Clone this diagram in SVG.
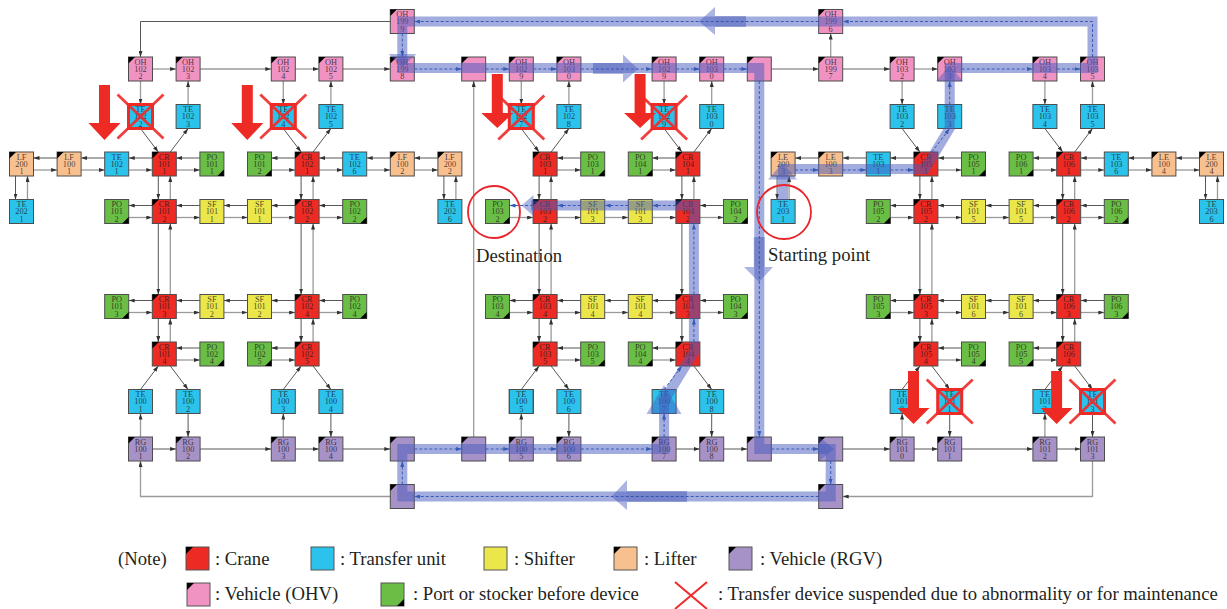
<svg xmlns="http://www.w3.org/2000/svg" width="1227" height="609" viewBox="0 0 1227 609">
<defs>
<style>
.n rect{stroke:#4d4d4d;stroke-width:1}
.cr{fill:#EE2A24}.te{fill:#2BC3EC}.sf{fill:#EBE74A}.lf{fill:#F9C08F}.rg{fill:#A792C7}.oh{fill:#F093C2}.po{fill:#6ABD45}
.t{font-family:"Liberation Serif","Times New Roman",serif;font-size:8.3px;text-anchor:middle;fill:#1a1a1a;fill-opacity:.8}
.d{fill:none;stroke:#444;stroke-width:.9;marker-end:url(#ad)}
.g{fill:none;stroke:#9a9a9a;stroke-width:1.3;marker-end:url(#ad)}
.r{fill:none;stroke:#2a5db0;stroke-width:1;stroke-dasharray:3 2;marker-end:url(#ab)}
.band{fill:none;stroke:rgb(70,90,190);stroke-opacity:.5;stroke-width:10;stroke-linejoin:miter}
.bh{fill:rgb(70,90,190);fill-opacity:.45}
.bs{fill:rgb(50,70,175);fill-opacity:.4}
.ra{fill:#EE2A24}
.x{stroke:#F02A2A;stroke-opacity:.9;stroke-width:2.8;fill:none}
.xb{stroke:#EE2A24;stroke-width:3;fill:none}
.lab{font-family:"Liberation Serif","Times New Roman",serif;font-size:18.7px;fill:#231f20}
.circ{fill:none;stroke:#E8262B;stroke-width:1.8}
</style>
<marker id="ad" viewBox="0 0 6 4" refX="6" refY="2" markerWidth="6" markerHeight="4" markerUnits="userSpaceOnUse" orient="auto"><path d="M0,0L6,2L0,4Z" fill="#333"/></marker>
<marker id="ab" viewBox="0 0 6 4" refX="6" refY="2" markerWidth="6" markerHeight="4" markerUnits="userSpaceOnUse" orient="auto"><path d="M0,0L6,2L0,4Z" fill="#2a5db0"/></marker>
<path id="tl" d="M0,0H6.5L0,6.5Z" fill="#000"/>
<path id="br" d="M24,24H17.5L24,17.5Z" fill="#000"/>
</defs>
<rect width="1227" height="609" fill="#fff"/>

<g id="connectors">
<path class="d" d="M390.3,21.5H140.5V57"/>
<path class="r" d="M818.7,21.5H414.3"/>
<path class="r" d="M1092.5,57V21.5H842.7"/>
<path class="g" d="M830.7,57V33.5"/>
<path class="r" d="M402.3,33.5V57"/>
<path class="g" d="M152.5,69H176.1"/><path class="g" d="M200.1,69H271.3"/><path class="g" d="M295.3,69H318.9"/><path class="g" d="M342.9,69H390.3"/>
<path class="r" d="M414.3,69H461.7"/><path class="r" d="M485.7,69H509.3"/><path class="r" d="M533.3,69H556.9"/><path class="r" d="M580.9,69H652.1"/><path class="r" d="M676.1,69H699.7"/><path class="r" d="M723.7,69H747.3"/>
<path class="g" d="M771.3,69H818.7"/><path class="g" d="M842.7,69H890.1"/><path class="g" d="M914.1,69H937.7"/>
<path class="r" d="M961.7,69H1032.9"/><path class="r" d="M1056.9,69H1080.5"/>
<path class="g" d="M140.5,81V104.5"/><path class="g" d="M283.3,81V104.5"/><path class="g" d="M521.3,81V104.5"/><path class="g" d="M664.1,81V104.5"/><path class="g" d="M902.1,81V104.5"/><path class="g" d="M1044.9,81V104.5"/>
<path class="g" d="M188.1,104.5V81"/><path class="g" d="M330.9,104.5V81"/><path class="g" d="M568.9,104.5V81"/><path class="g" d="M711.7,104.5V81"/><path class="r" d="M949.7,104.5V81"/><path class="g" d="M1092.5,104.5V81"/>
<path class="d" d="M140.5,128.5L158.3,152"/><path class="d" d="M170.3,152L188.1,128.5"/>
<path class="d" d="M283.3,128.5L301.1,152"/><path class="d" d="M313.1,152L330.9,128.5"/>
<path class="d" d="M521.3,128.5L539.1,152"/><path class="d" d="M551.1,152L568.9,128.5"/>
<path class="d" d="M664.1,128.5L681.9,152"/><path class="d" d="M693.9,152L711.7,128.5"/>
<path class="d" d="M902.1,128.5L919.9,152"/><path class="r" d="M931.9,152L949.7,128.5"/>
<path class="d" d="M1044.9,128.5L1062.7,152"/><path class="d" d="M1074.7,152L1092.5,128.5"/>
<path class="d" d="M57.1,158H33.5"/><path class="g" d="M33.5,170H57.1"/>
<path class="d" d="M104.7,158H81.1"/><path class="g" d="M81.1,170H104.7"/>
<path class="d" d="M152.3,158H128.7"/><path class="g" d="M128.7,170H152.3"/>
<path class="d" d="M199.9,158H176.3"/><path class="g" d="M176.3,170H199.9"/>
<path class="d" d="M295.1,158H271.5"/><path class="g" d="M271.5,170H295.1"/>
<path class="d" d="M342.7,158H319.1"/><path class="g" d="M319.1,170H342.7"/>
<path class="d" d="M390.3,158H366.7"/><path class="g" d="M366.7,170H390.3"/>
<path class="d" d="M437.9,158H414.3"/><path class="g" d="M414.3,170H437.9"/>
<path class="d" d="M580.7,158H557.1"/><path class="g" d="M557.1,170H580.7"/>
<path class="d" d="M675.9,158H652.3"/><path class="g" d="M652.3,170H675.9"/>
<path class="d" d="M818.7,158H795.1"/><path class="r" d="M795.1,170H818.7"/>
<path class="d" d="M866.3,158H842.7"/><path class="r" d="M842.7,170H866.3"/>
<path class="d" d="M913.9,158H890.3"/><path class="r" d="M890.3,170H913.9"/>
<path class="d" d="M961.5,158H937.9"/><path class="g" d="M937.9,170H961.5"/>
<path class="d" d="M1056.7,158H1033.1"/><path class="g" d="M1033.1,170H1056.7"/>
<path class="d" d="M1104.3,158H1080.7"/><path class="g" d="M1080.7,170H1104.3"/>
<path class="d" d="M1151.9,158H1128.3"/><path class="g" d="M1128.3,170H1151.9"/>
<path class="d" d="M1199.5,158H1175.9"/><path class="g" d="M1175.9,170H1199.5"/>
<path class="d" d="M152.3,205.5H128.7"/><path class="g" d="M128.7,217.5H152.3"/>
<path class="d" d="M199.9,205.5H176.3"/><path class="g" d="M176.3,217.5H199.9"/>
<path class="d" d="M247.5,205.5H223.9"/><path class="g" d="M223.9,217.5H247.5"/>
<path class="d" d="M295.1,205.5H271.5"/><path class="g" d="M271.5,217.5H295.1"/>
<path class="d" d="M342.7,205.5H319.1"/><path class="g" d="M319.1,217.5H342.7"/>
<path class="r" d="M533.1,205.5H509.5"/><path class="g" d="M509.5,217.5H533.1"/>
<path class="r" d="M580.7,205.5H557.1"/><path class="g" d="M557.1,217.5H580.7"/>
<path class="r" d="M628.3,205.5H604.7"/><path class="g" d="M604.7,217.5H628.3"/>
<path class="r" d="M675.9,205.5H652.3"/><path class="g" d="M652.3,217.5H675.9"/>
<path class="d" d="M723.5,205.5H699.9"/><path class="g" d="M699.9,217.5H723.5"/>
<path class="d" d="M913.9,205.5H890.3"/><path class="g" d="M890.3,217.5H913.9"/>
<path class="d" d="M961.5,205.5H937.9"/><path class="g" d="M937.9,217.5H961.5"/>
<path class="d" d="M1009.1,205.5H985.5"/><path class="g" d="M985.5,217.5H1009.1"/>
<path class="d" d="M1056.7,205.5H1033.1"/><path class="g" d="M1033.1,217.5H1056.7"/>
<path class="d" d="M1104.3,205.5H1080.7"/><path class="g" d="M1080.7,217.5H1104.3"/>
<path class="d" d="M152.3,300.5H128.7"/><path class="g" d="M128.7,312.5H152.3"/>
<path class="d" d="M199.9,300.5H176.3"/><path class="g" d="M176.3,312.5H199.9"/>
<path class="d" d="M247.5,300.5H223.9"/><path class="g" d="M223.9,312.5H247.5"/>
<path class="d" d="M295.1,300.5H271.5"/><path class="g" d="M271.5,312.5H295.1"/>
<path class="d" d="M342.7,300.5H319.1"/><path class="g" d="M319.1,312.5H342.7"/>
<path class="d" d="M533.1,300.5H509.5"/><path class="g" d="M509.5,312.5H533.1"/>
<path class="d" d="M580.7,300.5H557.1"/><path class="g" d="M557.1,312.5H580.7"/>
<path class="d" d="M628.3,300.5H604.7"/><path class="g" d="M604.7,312.5H628.3"/>
<path class="d" d="M675.9,300.5H652.3"/><path class="g" d="M652.3,312.5H675.9"/>
<path class="d" d="M723.5,300.5H699.9"/><path class="g" d="M699.9,312.5H723.5"/>
<path class="d" d="M913.9,300.5H890.3"/><path class="g" d="M890.3,312.5H913.9"/>
<path class="d" d="M961.5,300.5H937.9"/><path class="g" d="M937.9,312.5H961.5"/>
<path class="d" d="M1009.1,300.5H985.5"/><path class="g" d="M985.5,312.5H1009.1"/>
<path class="d" d="M1056.7,300.5H1033.1"/><path class="g" d="M1033.1,312.5H1056.7"/>
<path class="d" d="M1104.3,300.5H1080.7"/><path class="g" d="M1080.7,312.5H1104.3"/>
<path class="d" d="M199.9,348H176.3"/><path class="g" d="M176.3,360H199.9"/>
<path class="d" d="M295.1,348H271.5"/><path class="g" d="M271.5,360H295.1"/>
<path class="d" d="M580.7,348H557.1"/><path class="g" d="M557.1,360H580.7"/>
<path class="d" d="M675.9,348H652.3"/><path class="g" d="M652.3,360H675.9"/>
<path class="d" d="M961.5,348H937.9"/><path class="g" d="M937.9,360H961.5"/>
<path class="d" d="M1056.7,348H1033.1"/><path class="g" d="M1033.1,360H1056.7"/>
<path class="d" d="M15.5,176V199.5"/><path class="g" d="M27.5,199.5V176"/>
<path class="d" d="M443.9,176V199.5"/><path class="g" d="M455.9,199.5V176"/>
<path class="d" d="M777.1,176V199.5"/><path class="g" d="M789.1,199.5V176"/>
<path class="d" d="M1205.5,176V199.5"/><path class="g" d="M1217.5,199.5V176"/>
<path class="d" d="M158.3,176V199.5"/><path class="g" d="M170.3,199.5V176"/>
<path class="d" d="M158.3,223.5V294.5"/><path class="g" d="M170.3,294.5V223.5"/>
<path class="d" d="M158.3,318.5V342"/><path class="g" d="M170.3,342V318.5"/>
<path class="d" d="M301.1,176V199.5"/><path class="g" d="M313.1,199.5V176"/>
<path class="d" d="M301.1,223.5V294.5"/><path class="g" d="M313.1,294.5V223.5"/>
<path class="d" d="M301.1,318.5V342"/><path class="g" d="M313.1,342V318.5"/>
<path class="d" d="M539.1,176V199.5"/><path class="g" d="M551.1,199.5V176"/>
<path class="d" d="M539.1,223.5V294.5"/><path class="g" d="M551.1,294.5V223.5"/>
<path class="d" d="M539.1,318.5V342"/><path class="g" d="M551.1,342V318.5"/>
<path class="d" d="M681.9,176V199.5"/><path class="g" d="M693.9,199.5V176"/>
<path class="d" d="M681.9,223.5V294.5"/><path class="r" d="M693.9,294.5V223.5"/>
<path class="d" d="M681.9,318.5V342"/><path class="r" d="M693.9,342V318.5"/>
<path class="d" d="M919.9,176V199.5"/><path class="g" d="M931.9,199.5V176"/>
<path class="d" d="M919.9,223.5V294.5"/><path class="g" d="M931.9,294.5V223.5"/>
<path class="d" d="M919.9,318.5V342"/><path class="g" d="M931.9,342V318.5"/>
<path class="d" d="M1062.7,176V199.5"/><path class="g" d="M1074.7,199.5V176"/>
<path class="d" d="M1062.7,223.5V294.5"/><path class="g" d="M1074.7,294.5V223.5"/>
<path class="d" d="M1062.7,318.5V342"/><path class="g" d="M1074.7,342V318.5"/>
<path class="d" d="M140.5,389.5L158.3,366"/><path class="d" d="M170.3,366L188.1,389.5"/>
<path class="d" d="M283.3,389.5L301.1,366"/><path class="d" d="M313.1,366L330.9,389.5"/>
<path class="d" d="M521.3,389.5L539.1,366"/><path class="d" d="M551.1,366L568.9,389.5"/>
<path class="r" d="M664.1,389.5L681.9,366"/><path class="d" d="M693.9,366L711.7,389.5"/>
<path class="d" d="M902.1,389.5L919.9,366"/><path class="d" d="M931.9,366L949.7,389.5"/>
<path class="d" d="M1044.9,389.5L1062.7,366"/><path class="d" d="M1074.7,366L1092.5,389.5"/>
<path class="g" d="M140.5,437V413.5"/><path class="g" d="M283.3,437V413.5"/><path class="g" d="M521.3,437V413.5"/><path class="r" d="M664.1,437V413.5"/><path class="g" d="M902.1,437V413.5"/><path class="g" d="M1044.9,437V413.5"/>
<path class="d" d="M188.1,413.5V437"/><path class="d" d="M330.9,413.5V437"/><path class="d" d="M568.9,413.5V437"/><path class="d" d="M711.7,413.5V437"/><path class="d" d="M949.7,413.5V437"/><path class="d" d="M1092.5,413.5V437"/>
<path class="d" d="M152.5,449H176.1"/><path class="d" d="M200.1,449H271.3"/><path class="d" d="M295.3,449H318.9"/><path class="d" d="M342.9,449H390.3"/>
<path class="r" d="M414.3,449H461.7"/><path class="r" d="M485.7,449H509.3"/><path class="r" d="M533.3,449H556.9"/><path class="r" d="M580.9,449H652.1"/>
<path class="d" d="M676.1,449H699.7"/><path class="d" d="M723.7,449H747.3"/>
<path class="r" d="M771.3,449H818.7"/>
<path class="d" d="M842.7,449H890.1"/><path class="d" d="M914.1,449H937.7"/><path class="d" d="M961.7,449H1032.9"/><path class="d" d="M1056.9,449H1080.5"/>
<path class="g" d="M1092.5,461V496.5H842.7"/>
<path class="r" d="M818.7,496.5H414.3"/>
<path class="r" d="M402.3,484.5V461"/>
<path class="g" d="M390.3,496.5H140.5V461"/>
<path class="g" d="M473.7,437V81"/>
<path class="r" d="M759.3,81V437"/>
<path class="r" d="M830.7,461V484.5"/>
</g>

<g id="nodes">
<g id="n-OH1999" class="n" transform="translate(390.3,9.5)"><rect class="oh" width="24" height="24"/><use href="#tl"/><text class="t"><tspan x="12" y="7.5">OH</tspan><tspan x="12" y="14.8">199</tspan><tspan x="12" y="22">9</tspan></text></g>
<g id="n-OH1996" class="n" transform="translate(818.7,9.5)"><rect class="oh" width="24" height="24"/><use href="#tl"/><text class="t"><tspan x="12" y="7.5">OH</tspan><tspan x="12" y="14.8">199</tspan><tspan x="12" y="22">6</tspan></text></g>

<g id="n-OH1022" class="n" transform="translate(128.5,57)"><rect class="oh" width="24" height="24"/><use href="#tl"/><text class="t"><tspan x="12" y="7.5">OH</tspan><tspan x="12" y="14.8">102</tspan><tspan x="12" y="22">2</tspan></text></g>
<g id="n-OH1023" class="n" transform="translate(176.1,57)"><rect class="oh" width="24" height="24"/><use href="#tl"/><text class="t"><tspan x="12" y="7.5">OH</tspan><tspan x="12" y="14.8">102</tspan><tspan x="12" y="22">3</tspan></text></g>
<g id="n-OH1024" class="n" transform="translate(271.3,57)"><rect class="oh" width="24" height="24"/><use href="#tl"/><text class="t"><tspan x="12" y="7.5">OH</tspan><tspan x="12" y="14.8">102</tspan><tspan x="12" y="22">4</tspan></text></g>
<g id="n-OH1025" class="n" transform="translate(318.9,57)"><rect class="oh" width="24" height="24"/><use href="#tl"/><text class="t"><tspan x="12" y="7.5">OH</tspan><tspan x="12" y="14.8">102</tspan><tspan x="12" y="22">5</tspan></text></g>
<g id="n-OH1998" class="n" transform="translate(390.3,57)"><rect class="oh" width="24" height="24"/><use href="#tl"/><text class="t"><tspan x="12" y="7.5">OH</tspan><tspan x="12" y="14.8">199</tspan><tspan x="12" y="22">8</tspan></text></g>
<g id="n-OHB1" class="n" transform="translate(461.7,57)"><rect class="oh" width="24" height="24"/><use href="#tl"/></g>
<g id="n-OH1029a" class="n" transform="translate(509.3,57)"><rect class="oh" width="24" height="24"/><use href="#tl"/><text class="t"><tspan x="12" y="7.5">OH</tspan><tspan x="12" y="14.8">102</tspan><tspan x="12" y="22">9</tspan></text></g>
<g id="n-OH1030a" class="n" transform="translate(556.9,57)"><rect class="oh" width="24" height="24"/><use href="#tl"/><text class="t"><tspan x="12" y="7.5">OH</tspan><tspan x="12" y="14.8">103</tspan><tspan x="12" y="22">0</tspan></text></g>
<g id="n-OH1029b" class="n" transform="translate(652.1,57)"><rect class="oh" width="24" height="24"/><use href="#tl"/><text class="t"><tspan x="12" y="7.5">OH</tspan><tspan x="12" y="14.8">102</tspan><tspan x="12" y="22">9</tspan></text></g>
<g id="n-OH1030b" class="n" transform="translate(699.7,57)"><rect class="oh" width="24" height="24"/><use href="#tl"/><text class="t"><tspan x="12" y="7.5">OH</tspan><tspan x="12" y="14.8">103</tspan><tspan x="12" y="22">0</tspan></text></g>
<g id="n-OHB2" class="n" transform="translate(747.3,57)"><rect class="oh" width="24" height="24"/><use href="#tl"/></g>
<g id="n-OH1997" class="n" transform="translate(818.7,57)"><rect class="oh" width="24" height="24"/><use href="#tl"/><text class="t"><tspan x="12" y="7.5">OH</tspan><tspan x="12" y="14.8">199</tspan><tspan x="12" y="22">7</tspan></text></g>
<g id="n-OH1032" class="n" transform="translate(890.1,57)"><rect class="oh" width="24" height="24"/><use href="#tl"/><text class="t"><tspan x="12" y="7.5">OH</tspan><tspan x="12" y="14.8">103</tspan><tspan x="12" y="22">2</tspan></text></g>
<g id="n-OH1033" class="n" transform="translate(937.7,57)"><rect class="oh" width="24" height="24"/><use href="#tl"/><text class="t"><tspan x="12" y="7.5">OH</tspan><tspan x="12" y="14.8">103</tspan><tspan x="12" y="22">3</tspan></text></g>
<g id="n-OH1034" class="n" transform="translate(1032.9,57)"><rect class="oh" width="24" height="24"/><use href="#tl"/><text class="t"><tspan x="12" y="7.5">OH</tspan><tspan x="12" y="14.8">103</tspan><tspan x="12" y="22">4</tspan></text></g>
<g id="n-OH1035" class="n" transform="translate(1080.5,57)"><rect class="oh" width="24" height="24"/><use href="#tl"/><text class="t"><tspan x="12" y="7.5">OH</tspan><tspan x="12" y="14.8">103</tspan><tspan x="12" y="22">5</tspan></text></g>

<g id="n-TE1022" class="n" transform="translate(128.5,104.5)"><rect class="te" width="24" height="24"/><text class="t"><tspan x="12" y="7.5">TE</tspan><tspan x="12" y="14.8">102</tspan><tspan x="12" y="22">2</tspan></text></g>
<g id="n-TE1023" class="n" transform="translate(176.1,104.5)"><rect class="te" width="24" height="24"/><text class="t"><tspan x="12" y="7.5">TE</tspan><tspan x="12" y="14.8">102</tspan><tspan x="12" y="22">3</tspan></text></g>
<g id="n-TE1024" class="n" transform="translate(271.3,104.5)"><rect class="te" width="24" height="24"/><text class="t"><tspan x="12" y="7.5">TE</tspan><tspan x="12" y="14.8">102</tspan><tspan x="12" y="22">4</tspan></text></g>
<g id="n-TE1025" class="n" transform="translate(318.9,104.5)"><rect class="te" width="24" height="24"/><text class="t"><tspan x="12" y="7.5">TE</tspan><tspan x="12" y="14.8">102</tspan><tspan x="12" y="22">5</tspan></text></g>
<g id="n-TE1027" class="n" transform="translate(509.3,104.5)"><rect class="te" width="24" height="24"/><text class="t"><tspan x="12" y="7.5">TE</tspan><tspan x="12" y="14.8">102</tspan><tspan x="12" y="22">7</tspan></text></g>
<g id="n-TE1028" class="n" transform="translate(556.9,104.5)"><rect class="te" width="24" height="24"/><text class="t"><tspan x="12" y="7.5">TE</tspan><tspan x="12" y="14.8">102</tspan><tspan x="12" y="22">8</tspan></text></g>
<g id="n-TE1029" class="n" transform="translate(652.1,104.5)"><rect class="te" width="24" height="24"/><text class="t"><tspan x="12" y="7.5">TE</tspan><tspan x="12" y="14.8">102</tspan><tspan x="12" y="22">9</tspan></text></g>
<g id="n-TE1030" class="n" transform="translate(699.7,104.5)"><rect class="te" width="24" height="24"/><text class="t"><tspan x="12" y="7.5">TE</tspan><tspan x="12" y="14.8">103</tspan><tspan x="12" y="22">0</tspan></text></g>
<g id="n-TE1032" class="n" transform="translate(890.1,104.5)"><rect class="te" width="24" height="24"/><text class="t"><tspan x="12" y="7.5">TE</tspan><tspan x="12" y="14.8">103</tspan><tspan x="12" y="22">2</tspan></text></g>
<g id="n-TE1033" class="n" transform="translate(937.7,104.5)"><rect class="te" width="24" height="24"/><text class="t"><tspan x="12" y="7.5">TE</tspan><tspan x="12" y="14.8">103</tspan><tspan x="12" y="22">3</tspan></text></g>
<g id="n-TE1034" class="n" transform="translate(1032.9,104.5)"><rect class="te" width="24" height="24"/><text class="t"><tspan x="12" y="7.5">TE</tspan><tspan x="12" y="14.8">103</tspan><tspan x="12" y="22">4</tspan></text></g>
<g id="n-TE1035" class="n" transform="translate(1080.5,104.5)"><rect class="te" width="24" height="24"/><text class="t"><tspan x="12" y="7.5">TE</tspan><tspan x="12" y="14.8">103</tspan><tspan x="12" y="22">5</tspan></text></g>

<g id="n-LF2001" class="n" transform="translate(9.5,152)"><rect class="lf" width="24" height="24"/><use href="#tl"/><text class="t"><tspan x="12" y="7.5">LF</tspan><tspan x="12" y="14.8">200</tspan><tspan x="12" y="22">1</tspan></text></g>
<g id="n-LF1001" class="n" transform="translate(57.1,152)"><rect class="lf" width="24" height="24"/><use href="#tl"/><text class="t"><tspan x="12" y="7.5">LF</tspan><tspan x="12" y="14.8">100</tspan><tspan x="12" y="22">1</tspan></text></g>
<g id="n-TE1021" class="n" transform="translate(104.7,152)"><rect class="te" width="24" height="24"/><text class="t"><tspan x="12" y="7.5">TE</tspan><tspan x="12" y="14.8">102</tspan><tspan x="12" y="22">1</tspan></text></g>
<g id="n-CR1011" class="n" transform="translate(152.3,152)"><rect class="cr" width="24" height="24"/><use href="#tl"/><text class="t"><tspan x="12" y="7.5">CR</tspan><tspan x="12" y="14.8">101</tspan><tspan x="12" y="22">1</tspan></text></g>
<g id="n-PO1011" class="n" transform="translate(199.9,152)"><rect class="po" width="24" height="24"/><use href="#br"/><text class="t"><tspan x="12" y="7.5">PO</tspan><tspan x="12" y="14.8">101</tspan><tspan x="12" y="22">1</tspan></text></g>
<g id="n-PO1012a" class="n" transform="translate(247.5,152)"><rect class="po" width="24" height="24"/><use href="#br"/><text class="t"><tspan x="12" y="7.5">PO</tspan><tspan x="12" y="14.8">101</tspan><tspan x="12" y="22">2</tspan></text></g>
<g id="n-CR1021" class="n" transform="translate(295.1,152)"><rect class="cr" width="24" height="24"/><use href="#tl"/><text class="t"><tspan x="12" y="7.5">CR</tspan><tspan x="12" y="14.8">102</tspan><tspan x="12" y="22">1</tspan></text></g>
<g id="n-TE1026" class="n" transform="translate(342.7,152)"><rect class="te" width="24" height="24"/><text class="t"><tspan x="12" y="7.5">TE</tspan><tspan x="12" y="14.8">102</tspan><tspan x="12" y="22">6</tspan></text></g>
<g id="n-LF1002" class="n" transform="translate(390.3,152)"><rect class="lf" width="24" height="24"/><use href="#tl"/><text class="t"><tspan x="12" y="7.5">LF</tspan><tspan x="12" y="14.8">100</tspan><tspan x="12" y="22">2</tspan></text></g>
<g id="n-LF2002" class="n" transform="translate(437.9,152)"><rect class="lf" width="24" height="24"/><use href="#tl"/><text class="t"><tspan x="12" y="7.5">LF</tspan><tspan x="12" y="14.8">200</tspan><tspan x="12" y="22">2</tspan></text></g>
<g id="n-CR1031" class="n" transform="translate(533.1,152)"><rect class="cr" width="24" height="24"/><use href="#tl"/><text class="t"><tspan x="12" y="7.5">CR</tspan><tspan x="12" y="14.8">103</tspan><tspan x="12" y="22">1</tspan></text></g>
<g id="n-PO1031" class="n" transform="translate(580.7,152)"><rect class="po" width="24" height="24"/><use href="#br"/><text class="t"><tspan x="12" y="7.5">PO</tspan><tspan x="12" y="14.8">103</tspan><tspan x="12" y="22">1</tspan></text></g>
<g id="n-PO1041" class="n" transform="translate(628.3,152)"><rect class="po" width="24" height="24"/><use href="#br"/><text class="t"><tspan x="12" y="7.5">PO</tspan><tspan x="12" y="14.8">104</tspan><tspan x="12" y="22">1</tspan></text></g>
<g id="n-CR1041" class="n" transform="translate(675.9,152)"><rect class="cr" width="24" height="24"/><use href="#tl"/><text class="t"><tspan x="12" y="7.5">CR</tspan><tspan x="12" y="14.8">104</tspan><tspan x="12" y="22">1</tspan></text></g>
<g id="n-LE2003" class="n" transform="translate(771.1,152)"><rect class="lf" width="24" height="24"/><use href="#tl"/><text class="t"><tspan x="12" y="7.5">LE</tspan><tspan x="12" y="14.8">200</tspan><tspan x="12" y="22">3</tspan></text></g>
<g id="n-LE1003" class="n" transform="translate(818.7,152)"><rect class="lf" width="24" height="24"/><use href="#tl"/><text class="t"><tspan x="12" y="7.5">LE</tspan><tspan x="12" y="14.8">100</tspan><tspan x="12" y="22">3</tspan></text></g>
<g id="n-TE1031" class="n" transform="translate(866.3,152)"><rect class="te" width="24" height="24"/><text class="t"><tspan x="12" y="7.5">TE</tspan><tspan x="12" y="14.8">103</tspan><tspan x="12" y="22">1</tspan></text></g>
<g id="n-CR1051" class="n" transform="translate(913.9,152)"><rect class="cr" width="24" height="24"/><use href="#tl"/><text class="t"><tspan x="12" y="7.5">CR</tspan><tspan x="12" y="14.8">105</tspan><tspan x="12" y="22">1</tspan></text></g>
<g id="n-PO1051" class="n" transform="translate(961.5,152)"><rect class="po" width="24" height="24"/><use href="#br"/><text class="t"><tspan x="12" y="7.5">PO</tspan><tspan x="12" y="14.8">105</tspan><tspan x="12" y="22">1</tspan></text></g>
<g id="n-PO1061" class="n" transform="translate(1009.1,152)"><rect class="po" width="24" height="24"/><use href="#br"/><text class="t"><tspan x="12" y="7.5">PO</tspan><tspan x="12" y="14.8">106</tspan><tspan x="12" y="22">1</tspan></text></g>
<g id="n-CR1061" class="n" transform="translate(1056.7,152)"><rect class="cr" width="24" height="24"/><use href="#tl"/><text class="t"><tspan x="12" y="7.5">CR</tspan><tspan x="12" y="14.8">106</tspan><tspan x="12" y="22">1</tspan></text></g>
<g id="n-TE1036" class="n" transform="translate(1104.3,152)"><rect class="te" width="24" height="24"/><text class="t"><tspan x="12" y="7.5">TE</tspan><tspan x="12" y="14.8">103</tspan><tspan x="12" y="22">6</tspan></text></g>
<g id="n-LE1004" class="n" transform="translate(1151.9,152)"><rect class="lf" width="24" height="24"/><use href="#tl"/><text class="t"><tspan x="12" y="7.5">LE</tspan><tspan x="12" y="14.8">100</tspan><tspan x="12" y="22">4</tspan></text></g>
<g id="n-LE2004" class="n" transform="translate(1199.5,152)"><rect class="lf" width="24" height="24"/><use href="#tl"/><text class="t"><tspan x="12" y="7.5">LE</tspan><tspan x="12" y="14.8">200</tspan><tspan x="12" y="22">4</tspan></text></g>

<g id="n-TE2021" class="n" transform="translate(9.5,199.5)"><rect class="te" width="24" height="24"/><text class="t"><tspan x="12" y="7.5">TE</tspan><tspan x="12" y="14.8">202</tspan><tspan x="12" y="22">1</tspan></text></g>
<g id="n-PO1012b" class="n" transform="translate(104.7,199.5)"><rect class="po" width="24" height="24"/><use href="#br"/><text class="t"><tspan x="12" y="7.5">PO</tspan><tspan x="12" y="14.8">101</tspan><tspan x="12" y="22">2</tspan></text></g>
<g id="n-CR1012" class="n" transform="translate(152.3,199.5)"><rect class="cr" width="24" height="24"/><use href="#tl"/><text class="t"><tspan x="12" y="7.5">CR</tspan><tspan x="12" y="14.8">101</tspan><tspan x="12" y="22">2</tspan></text></g>
<g id="n-SF1011a" class="n" transform="translate(199.9,199.5)"><rect class="sf" width="24" height="24"/><text class="t"><tspan x="12" y="7.5">SF</tspan><tspan x="12" y="14.8">101</tspan><tspan x="12" y="22">1</tspan></text></g>
<g id="n-SF1011b" class="n" transform="translate(247.5,199.5)"><rect class="sf" width="24" height="24"/><text class="t"><tspan x="12" y="7.5">SF</tspan><tspan x="12" y="14.8">101</tspan><tspan x="12" y="22">1</tspan></text></g>
<g id="n-CR1022" class="n" transform="translate(295.1,199.5)"><rect class="cr" width="24" height="24"/><use href="#tl"/><text class="t"><tspan x="12" y="7.5">CR</tspan><tspan x="12" y="14.8">102</tspan><tspan x="12" y="22">2</tspan></text></g>
<g id="n-PO1022" class="n" transform="translate(342.7,199.5)"><rect class="po" width="24" height="24"/><use href="#br"/><text class="t"><tspan x="12" y="7.5">PO</tspan><tspan x="12" y="14.8">102</tspan><tspan x="12" y="22">2</tspan></text></g>
<g id="n-TE2026" class="n" transform="translate(437.9,199.5)"><rect class="te" width="24" height="24"/><text class="t"><tspan x="12" y="7.5">TE</tspan><tspan x="12" y="14.8">202</tspan><tspan x="12" y="22">6</tspan></text></g>
<g id="n-PO1032" class="n" transform="translate(485.5,199.5)"><rect class="po" width="24" height="24"/><use href="#br"/><text class="t"><tspan x="12" y="7.5">PO</tspan><tspan x="12" y="14.8">103</tspan><tspan x="12" y="22">2</tspan></text></g>
<g id="n-CR1032" class="n" transform="translate(533.1,199.5)"><rect class="cr" width="24" height="24"/><use href="#tl"/><text class="t"><tspan x="12" y="7.5">CR</tspan><tspan x="12" y="14.8">103</tspan><tspan x="12" y="22">2</tspan></text></g>
<g id="n-SF1013a" class="n" transform="translate(580.7,199.5)"><rect class="sf" width="24" height="24"/><text class="t"><tspan x="12" y="7.5">SF</tspan><tspan x="12" y="14.8">101</tspan><tspan x="12" y="22">3</tspan></text></g>
<g id="n-SF1013b" class="n" transform="translate(628.3,199.5)"><rect class="sf" width="24" height="24"/><text class="t"><tspan x="12" y="7.5">SF</tspan><tspan x="12" y="14.8">101</tspan><tspan x="12" y="22">3</tspan></text></g>
<g id="n-CR1042" class="n" transform="translate(675.9,199.5)"><rect class="cr" width="24" height="24"/><use href="#tl"/><text class="t"><tspan x="12" y="7.5">CR</tspan><tspan x="12" y="14.8">104</tspan><tspan x="12" y="22">2</tspan></text></g>
<g id="n-PO1042" class="n" transform="translate(723.5,199.5)"><rect class="po" width="24" height="24"/><use href="#br"/><text class="t"><tspan x="12" y="7.5">PO</tspan><tspan x="12" y="14.8">104</tspan><tspan x="12" y="22">2</tspan></text></g>
<g id="n-TE2031" class="n" transform="translate(771.1,199.5)"><rect class="te" width="24" height="24"/><text class="t"><tspan x="12" y="7.5">TE</tspan><tspan x="12" y="14.8">203</tspan><tspan x="12" y="22">1</tspan></text></g>
<g id="n-PO1052" class="n" transform="translate(866.3,199.5)"><rect class="po" width="24" height="24"/><use href="#br"/><text class="t"><tspan x="12" y="7.5">PO</tspan><tspan x="12" y="14.8">105</tspan><tspan x="12" y="22">2</tspan></text></g>
<g id="n-CR1052" class="n" transform="translate(913.9,199.5)"><rect class="cr" width="24" height="24"/><use href="#tl"/><text class="t"><tspan x="12" y="7.5">CR</tspan><tspan x="12" y="14.8">105</tspan><tspan x="12" y="22">2</tspan></text></g>
<g id="n-SF1015a" class="n" transform="translate(961.5,199.5)"><rect class="sf" width="24" height="24"/><text class="t"><tspan x="12" y="7.5">SF</tspan><tspan x="12" y="14.8">101</tspan><tspan x="12" y="22">5</tspan></text></g>
<g id="n-SF1015b" class="n" transform="translate(1009.1,199.5)"><rect class="sf" width="24" height="24"/><text class="t"><tspan x="12" y="7.5">SF</tspan><tspan x="12" y="14.8">101</tspan><tspan x="12" y="22">5</tspan></text></g>
<g id="n-CR1062" class="n" transform="translate(1056.7,199.5)"><rect class="cr" width="24" height="24"/><use href="#tl"/><text class="t"><tspan x="12" y="7.5">CR</tspan><tspan x="12" y="14.8">106</tspan><tspan x="12" y="22">2</tspan></text></g>
<g id="n-PO1062" class="n" transform="translate(1104.3,199.5)"><rect class="po" width="24" height="24"/><use href="#br"/><text class="t"><tspan x="12" y="7.5">PO</tspan><tspan x="12" y="14.8">106</tspan><tspan x="12" y="22">2</tspan></text></g>
<g id="n-TE2036" class="n" transform="translate(1199.5,199.5)"><rect class="te" width="24" height="24"/><text class="t"><tspan x="12" y="7.5">TE</tspan><tspan x="12" y="14.8">203</tspan><tspan x="12" y="22">6</tspan></text></g>

<g id="n-PO1013" class="n" transform="translate(104.7,294.5)"><rect class="po" width="24" height="24"/><use href="#br"/><text class="t"><tspan x="12" y="7.5">PO</tspan><tspan x="12" y="14.8">101</tspan><tspan x="12" y="22">3</tspan></text></g>
<g id="n-CR1013" class="n" transform="translate(152.3,294.5)"><rect class="cr" width="24" height="24"/><use href="#tl"/><text class="t"><tspan x="12" y="7.5">CR</tspan><tspan x="12" y="14.8">101</tspan><tspan x="12" y="22">3</tspan></text></g>
<g id="n-SF1012a" class="n" transform="translate(199.9,294.5)"><rect class="sf" width="24" height="24"/><text class="t"><tspan x="12" y="7.5">SF</tspan><tspan x="12" y="14.8">101</tspan><tspan x="12" y="22">2</tspan></text></g>
<g id="n-SF1012b" class="n" transform="translate(247.5,294.5)"><rect class="sf" width="24" height="24"/><text class="t"><tspan x="12" y="7.5">SF</tspan><tspan x="12" y="14.8">101</tspan><tspan x="12" y="22">2</tspan></text></g>
<g id="n-CR1024" class="n" transform="translate(295.1,294.5)"><rect class="cr" width="24" height="24"/><use href="#tl"/><text class="t"><tspan x="12" y="7.5">CR</tspan><tspan x="12" y="14.8">102</tspan><tspan x="12" y="22">4</tspan></text></g>
<g id="n-PO1024a" class="n" transform="translate(342.7,294.5)"><rect class="po" width="24" height="24"/><use href="#br"/><text class="t"><tspan x="12" y="7.5">PO</tspan><tspan x="12" y="14.8">102</tspan><tspan x="12" y="22">4</tspan></text></g>
<g id="n-PO1034" class="n" transform="translate(485.5,294.5)"><rect class="po" width="24" height="24"/><use href="#br"/><text class="t"><tspan x="12" y="7.5">PO</tspan><tspan x="12" y="14.8">103</tspan><tspan x="12" y="22">4</tspan></text></g>
<g id="n-CR1034" class="n" transform="translate(533.1,294.5)"><rect class="cr" width="24" height="24"/><use href="#tl"/><text class="t"><tspan x="12" y="7.5">CR</tspan><tspan x="12" y="14.8">103</tspan><tspan x="12" y="22">4</tspan></text></g>
<g id="n-SF1014a" class="n" transform="translate(580.7,294.5)"><rect class="sf" width="24" height="24"/><text class="t"><tspan x="12" y="7.5">SF</tspan><tspan x="12" y="14.8">101</tspan><tspan x="12" y="22">4</tspan></text></g>
<g id="n-SF1014b" class="n" transform="translate(628.3,294.5)"><rect class="sf" width="24" height="24"/><text class="t"><tspan x="12" y="7.5">SF</tspan><tspan x="12" y="14.8">101</tspan><tspan x="12" y="22">4</tspan></text></g>
<g id="n-CR1043" class="n" transform="translate(675.9,294.5)"><rect class="cr" width="24" height="24"/><use href="#tl"/><text class="t"><tspan x="12" y="7.5">CR</tspan><tspan x="12" y="14.8">104</tspan><tspan x="12" y="22">3</tspan></text></g>
<g id="n-PO1043" class="n" transform="translate(723.5,294.5)"><rect class="po" width="24" height="24"/><use href="#br"/><text class="t"><tspan x="12" y="7.5">PO</tspan><tspan x="12" y="14.8">104</tspan><tspan x="12" y="22">3</tspan></text></g>
<g id="n-PO1053" class="n" transform="translate(866.3,294.5)"><rect class="po" width="24" height="24"/><use href="#br"/><text class="t"><tspan x="12" y="7.5">PO</tspan><tspan x="12" y="14.8">105</tspan><tspan x="12" y="22">3</tspan></text></g>
<g id="n-CR1053" class="n" transform="translate(913.9,294.5)"><rect class="cr" width="24" height="24"/><use href="#tl"/><text class="t"><tspan x="12" y="7.5">CR</tspan><tspan x="12" y="14.8">105</tspan><tspan x="12" y="22">3</tspan></text></g>
<g id="n-SF1016a" class="n" transform="translate(961.5,294.5)"><rect class="sf" width="24" height="24"/><text class="t"><tspan x="12" y="7.5">SF</tspan><tspan x="12" y="14.8">101</tspan><tspan x="12" y="22">6</tspan></text></g>
<g id="n-SF1016b" class="n" transform="translate(1009.1,294.5)"><rect class="sf" width="24" height="24"/><text class="t"><tspan x="12" y="7.5">SF</tspan><tspan x="12" y="14.8">101</tspan><tspan x="12" y="22">6</tspan></text></g>
<g id="n-CR1063" class="n" transform="translate(1056.7,294.5)"><rect class="cr" width="24" height="24"/><use href="#tl"/><text class="t"><tspan x="12" y="7.5">CR</tspan><tspan x="12" y="14.8">106</tspan><tspan x="12" y="22">3</tspan></text></g>
<g id="n-PO1063" class="n" transform="translate(1104.3,294.5)"><rect class="po" width="24" height="24"/><use href="#br"/><text class="t"><tspan x="12" y="7.5">PO</tspan><tspan x="12" y="14.8">106</tspan><tspan x="12" y="22">3</tspan></text></g>

<g id="n-CR1014" class="n" transform="translate(152.3,342)"><rect class="cr" width="24" height="24"/><use href="#tl"/><text class="t"><tspan x="12" y="7.5">CR</tspan><tspan x="12" y="14.8">101</tspan><tspan x="12" y="22">4</tspan></text></g>
<g id="n-PO1024b" class="n" transform="translate(199.9,342)"><rect class="po" width="24" height="24"/><use href="#br"/><text class="t"><tspan x="12" y="7.5">PO</tspan><tspan x="12" y="14.8">102</tspan><tspan x="12" y="22">4</tspan></text></g>
<g id="n-PO1025" class="n" transform="translate(247.5,342)"><rect class="po" width="24" height="24"/><use href="#br"/><text class="t"><tspan x="12" y="7.5">PO</tspan><tspan x="12" y="14.8">102</tspan><tspan x="12" y="22">5</tspan></text></g>
<g id="n-CR1025" class="n" transform="translate(295.1,342)"><rect class="cr" width="24" height="24"/><use href="#tl"/><text class="t"><tspan x="12" y="7.5">CR</tspan><tspan x="12" y="14.8">102</tspan><tspan x="12" y="22">5</tspan></text></g>
<g id="n-CR1035" class="n" transform="translate(533.1,342)"><rect class="cr" width="24" height="24"/><use href="#tl"/><text class="t"><tspan x="12" y="7.5">CR</tspan><tspan x="12" y="14.8">103</tspan><tspan x="12" y="22">5</tspan></text></g>
<g id="n-PO1035" class="n" transform="translate(580.7,342)"><rect class="po" width="24" height="24"/><use href="#br"/><text class="t"><tspan x="12" y="7.5">PO</tspan><tspan x="12" y="14.8">103</tspan><tspan x="12" y="22">5</tspan></text></g>
<g id="n-PO1044" class="n" transform="translate(628.3,342)"><rect class="po" width="24" height="24"/><use href="#br"/><text class="t"><tspan x="12" y="7.5">PO</tspan><tspan x="12" y="14.8">104</tspan><tspan x="12" y="22">4</tspan></text></g>
<g id="n-CR1044" class="n" transform="translate(675.9,342)"><rect class="cr" width="24" height="24"/><use href="#tl"/><text class="t"><tspan x="12" y="7.5">CR</tspan><tspan x="12" y="14.8">104</tspan><tspan x="12" y="22">4</tspan></text></g>
<g id="n-CR1054" class="n" transform="translate(913.9,342)"><rect class="cr" width="24" height="24"/><use href="#tl"/><text class="t"><tspan x="12" y="7.5">CR</tspan><tspan x="12" y="14.8">105</tspan><tspan x="12" y="22">4</tspan></text></g>
<g id="n-PO1054" class="n" transform="translate(961.5,342)"><rect class="po" width="24" height="24"/><use href="#br"/><text class="t"><tspan x="12" y="7.5">PO</tspan><tspan x="12" y="14.8">105</tspan><tspan x="12" y="22">4</tspan></text></g>
<g id="n-PO1055" class="n" transform="translate(1009.1,342)"><rect class="po" width="24" height="24"/><use href="#br"/><text class="t"><tspan x="12" y="7.5">PO</tspan><tspan x="12" y="14.8">105</tspan><tspan x="12" y="22">5</tspan></text></g>
<g id="n-CR1064" class="n" transform="translate(1056.7,342)"><rect class="cr" width="24" height="24"/><use href="#tl"/><text class="t"><tspan x="12" y="7.5">CR</tspan><tspan x="12" y="14.8">106</tspan><tspan x="12" y="22">4</tspan></text></g>

<g id="n-TE1001" class="n" transform="translate(128.5,389.5)"><rect class="te" width="24" height="24"/><text class="t"><tspan x="12" y="7.5">TE</tspan><tspan x="12" y="14.8">100</tspan><tspan x="12" y="22">1</tspan></text></g>
<g id="n-TE1002" class="n" transform="translate(176.1,389.5)"><rect class="te" width="24" height="24"/><text class="t"><tspan x="12" y="7.5">TE</tspan><tspan x="12" y="14.8">100</tspan><tspan x="12" y="22">2</tspan></text></g>
<g id="n-TE1003" class="n" transform="translate(271.3,389.5)"><rect class="te" width="24" height="24"/><text class="t"><tspan x="12" y="7.5">TE</tspan><tspan x="12" y="14.8">100</tspan><tspan x="12" y="22">3</tspan></text></g>
<g id="n-TE1004" class="n" transform="translate(318.9,389.5)"><rect class="te" width="24" height="24"/><text class="t"><tspan x="12" y="7.5">TE</tspan><tspan x="12" y="14.8">100</tspan><tspan x="12" y="22">4</tspan></text></g>
<g id="n-TE1005" class="n" transform="translate(509.3,389.5)"><rect class="te" width="24" height="24"/><rect class="xb" x="0" y="0" width="24" height="24"/><text class="t"><tspan x="12" y="7.5">TE</tspan><tspan x="12" y="14.8">100</tspan><tspan x="12" y="22">5</tspan></text></g>
<g id="n-TE1006" class="n" transform="translate(556.9,389.5)"><rect class="te" width="24" height="24"/><text class="t"><tspan x="12" y="7.5">TE</tspan><tspan x="12" y="14.8">100</tspan><tspan x="12" y="22">6</tspan></text></g>
<g id="n-TE1007" class="n" transform="translate(652.1,389.5)"><rect class="te" width="24" height="24"/><text class="t"><tspan x="12" y="7.5">TE</tspan><tspan x="12" y="14.8">100</tspan><tspan x="12" y="22">7</tspan></text></g>
<g id="n-TE1008" class="n" transform="translate(699.7,389.5)"><rect class="te" width="24" height="24"/><text class="t"><tspan x="12" y="7.5">TE</tspan><tspan x="12" y="14.8">100</tspan><tspan x="12" y="22">8</tspan></text></g>
<g id="n-TE1010" class="n" transform="translate(890.1,389.5)"><rect class="te" width="24" height="24"/><text class="t"><tspan x="12" y="7.5">TE</tspan><tspan x="12" y="14.8">101</tspan><tspan x="12" y="22">0</tspan></text></g>
<g id="n-TE1011" class="n" transform="translate(937.7,389.5)"><rect class="te" width="24" height="24"/><text class="t"><tspan x="12" y="7.5">TE</tspan><tspan x="12" y="14.8">101</tspan><tspan x="12" y="22">1</tspan></text></g>
<g id="n-TE1012" class="n" transform="translate(1032.9,389.5)"><rect class="te" width="24" height="24"/><text class="t"><tspan x="12" y="7.5">TE</tspan><tspan x="12" y="14.8">101</tspan><tspan x="12" y="22">2</tspan></text></g>
<g id="n-TE1013" class="n" transform="translate(1080.5,389.5)"><rect class="te" width="24" height="24"/><text class="t"><tspan x="12" y="7.5">TE</tspan><tspan x="12" y="14.8">101</tspan><tspan x="12" y="22">3</tspan></text></g>

<g id="n-RG1001" class="n" transform="translate(128.5,437)"><rect class="rg" width="24" height="24"/><use href="#tl"/><text class="t"><tspan x="12" y="7.5">RG</tspan><tspan x="12" y="14.8">100</tspan><tspan x="12" y="22">1</tspan></text></g>
<g id="n-RG1002" class="n" transform="translate(176.1,437)"><rect class="rg" width="24" height="24"/><use href="#tl"/><text class="t"><tspan x="12" y="7.5">RG</tspan><tspan x="12" y="14.8">100</tspan><tspan x="12" y="22">2</tspan></text></g>
<g id="n-RG1003" class="n" transform="translate(271.3,437)"><rect class="rg" width="24" height="24"/><use href="#tl"/><text class="t"><tspan x="12" y="7.5">RG</tspan><tspan x="12" y="14.8">100</tspan><tspan x="12" y="22">3</tspan></text></g>
<g id="n-RG1004" class="n" transform="translate(318.9,437)"><rect class="rg" width="24" height="24"/><use href="#tl"/><text class="t"><tspan x="12" y="7.5">RG</tspan><tspan x="12" y="14.8">100</tspan><tspan x="12" y="22">4</tspan></text></g>
<g id="n-RGB1" class="n" transform="translate(390.3,437)"><rect class="rg" width="24" height="24"/><use href="#tl"/></g>
<g id="n-RGB2" class="n" transform="translate(461.7,437)"><rect class="rg" width="24" height="24"/><use href="#tl"/></g>
<g id="n-RG1005" class="n" transform="translate(509.3,437)"><rect class="rg" width="24" height="24"/><use href="#tl"/><text class="t"><tspan x="12" y="7.5">RG</tspan><tspan x="12" y="14.8">100</tspan><tspan x="12" y="22">5</tspan></text></g>
<g id="n-RG1006" class="n" transform="translate(556.9,437)"><rect class="rg" width="24" height="24"/><use href="#tl"/><text class="t"><tspan x="12" y="7.5">RG</tspan><tspan x="12" y="14.8">100</tspan><tspan x="12" y="22">6</tspan></text></g>
<g id="n-RG1007" class="n" transform="translate(652.1,437)"><rect class="rg" width="24" height="24"/><use href="#tl"/><text class="t"><tspan x="12" y="7.5">RG</tspan><tspan x="12" y="14.8">100</tspan><tspan x="12" y="22">7</tspan></text></g>
<g id="n-RG1008" class="n" transform="translate(699.7,437)"><rect class="rg" width="24" height="24"/><use href="#tl"/><text class="t"><tspan x="12" y="7.5">RG</tspan><tspan x="12" y="14.8">100</tspan><tspan x="12" y="22">8</tspan></text></g>
<g id="n-RGB3" class="n" transform="translate(747.3,437)"><rect class="rg" width="24" height="24"/><use href="#tl"/></g>
<g id="n-RGB4" class="n" transform="translate(818.7,437)"><rect class="rg" width="24" height="24"/><use href="#tl"/></g>
<g id="n-RG1010" class="n" transform="translate(890.1,437)"><rect class="rg" width="24" height="24"/><use href="#tl"/><text class="t"><tspan x="12" y="7.5">RG</tspan><tspan x="12" y="14.8">101</tspan><tspan x="12" y="22">0</tspan></text></g>
<g id="n-RG1011" class="n" transform="translate(937.7,437)"><rect class="rg" width="24" height="24"/><use href="#tl"/><text class="t"><tspan x="12" y="7.5">RG</tspan><tspan x="12" y="14.8">101</tspan><tspan x="12" y="22">1</tspan></text></g>
<g id="n-RG1012" class="n" transform="translate(1032.9,437)"><rect class="rg" width="24" height="24"/><use href="#tl"/><text class="t"><tspan x="12" y="7.5">RG</tspan><tspan x="12" y="14.8">101</tspan><tspan x="12" y="22">2</tspan></text></g>
<g id="n-RG1013" class="n" transform="translate(1080.5,437)"><rect class="rg" width="24" height="24"/><use href="#tl"/><text class="t"><tspan x="12" y="7.5">RG</tspan><tspan x="12" y="14.8">101</tspan><tspan x="12" y="22">3</tspan></text></g>
<g id="n-RGB5" class="n" transform="translate(390.3,484.5)"><rect class="rg" width="24" height="24"/><use href="#tl"/></g>
<g id="n-RGB6" class="n" transform="translate(818.7,484.5)"><rect class="rg" width="24" height="24"/><use href="#tl"/></g>
</g>

<g id="route">
<path class="band" d="M783.1,200V169H925L949.7,128V68H1092.5V21.5H402.3V68H759.3V449H830.7V496.5H402.3V449H664.1V401L693.9,352V205.5H531"/>
<path class="bh" d="M768,179.5L797,179.5L782.5,163Z"/>
<path class="bh" d="M936,81L963,81L949.5,66Z"/>
<rect class="bs" x="715" y="16" width="31" height="11"/>
<path class="bh" d="M715,7L715,35L699,21.5Z"/>
<path class="bh" d="M388.5,54L416.5,54L402.3,67Z"/>
<rect class="bs" x="593" y="63" width="30" height="11"/>
<path class="bh" d="M623,54.5L623,82.5L638,69Z"/>
<rect class="bs" x="753.8" y="237" width="11" height="30"/>
<path class="bh" d="M744,267L773,267L759,282Z"/>
<path class="bh" d="M818.7,436.5L818.7,461.5L834,449Z"/>
<rect class="bs" x="627" y="491" width="60" height="11"/>
<path class="bh" d="M627,480L627,510L611.5,496.5Z"/>
<path class="bh" d="M646.5,414L681.5,414L664,385Z"/>
<path class="bh" d="M533.5,195L533.5,216L521.5,205.5Z"/>
</g>

<g id="suspended">
<rect class="xb" x="128.5" y="104.5" width="24" height="24"/>
<rect class="xb" x="271.3" y="104.5" width="24" height="24"/>
<rect class="xb" x="509.3" y="104.5" width="24" height="24"/>
<rect class="xb" x="652.1" y="104.5" width="24" height="24"/>
<rect class="xb" x="937.7" y="389.5" width="24" height="24"/>
<rect class="xb" x="1080.5" y="389.5" width="24" height="24"/>
<path class="x" d="M117.5,94.5L163.5,138.5M163.5,94.5L117.5,138.5"/>
<path class="x" d="M260.3,94.5L306.3,138.5M306.3,94.5L260.3,138.5"/>
<path class="x" d="M498.3,95.5L544.3,139.5M544.3,95.5L498.3,139.5"/>
<path class="x" d="M641.1,95.5L687.1,139.5M687.1,95.5L641.1,139.5"/>
<path class="x" d="M926.7,379.5L972.7,423.5M972.7,379.5L926.7,423.5"/>
<path class="x" d="M1069.5,379.5L1115.5,423.5M1115.5,379.5L1069.5,423.5"/>
<path class="ra" d="M99,85H110V123H120.5L104.5,140L88.5,123H99Z"/>
<path class="ra" d="M241.8,85H252.8V123H263.3L247.3,140L231.3,123H241.8Z"/>
<path class="ra" d="M491.8,74H502.8V113H513.3L497.3,128L481.3,113H491.8Z"/>
<path class="ra" d="M634.6,74H645.6V113H656.1L640.1,128L624.1,113H634.6Z"/>
<path class="ra" d="M908,371H919V408H929.5L913.5,424L897.5,408H908Z"/>
<path class="ra" d="M1051.1,371H1062.1V408H1072.6L1056.6,424L1040.6,408H1051.1Z"/>
</g>

<g id="annotations">
<circle class="circ" cx="494" cy="212" r="26"/>
<text class="lab" x="476" y="262">Destination</text>
<circle class="circ" cx="784" cy="212" r="27"/>
<text class="lab" x="768" y="261">Starting point</text>
</g>

<g id="legend">
<text class="lab" x="118" y="565">(Note)</text>
<rect class="cr" x="186" y="547" width="23" height="23" stroke="#555"/><path d="M186,547h7l-7,7z"/>
<text class="lab" x="215" y="565">: Crane</text>
<rect class="te" x="311" y="547" width="23" height="23" stroke="#555"/>
<text class="lab" x="340" y="565">: Transfer unit</text>
<rect class="sf" x="484" y="547" width="23" height="23" stroke="#555"/>
<text class="lab" x="514" y="565">: Shifter</text>
<rect class="lf" x="614" y="547" width="23" height="23" stroke="#555"/><path d="M614,547h7l-7,7z"/>
<text class="lab" x="644" y="565">: Lifter</text>
<rect class="rg" x="729" y="547" width="23" height="23" stroke="#555"/><path d="M729,547h7l-7,7z"/>
<text class="lab" x="760" y="565">: Vehicle (RGV)</text>
<rect class="oh" x="187" y="583" width="23" height="23" stroke="#555"/><path d="M187,583h7l-7,7z"/>
<text class="lab" x="215" y="600">: Vehicle (OHV)</text>
<rect class="po" x="381" y="583" width="23" height="23" stroke="#555"/><path d="M404,606h-7l7,-7z"/>
<text class="lab" x="413" y="600">: Port or stocker before device</text>
<path d="M675,582L707,609M707,582L675,609" stroke="#F02A2A" stroke-width="2"/>
<text class="lab" x="718" y="600">: Transfer device suspended due to abnormality or for maintenance</text>
</g>
</svg>
